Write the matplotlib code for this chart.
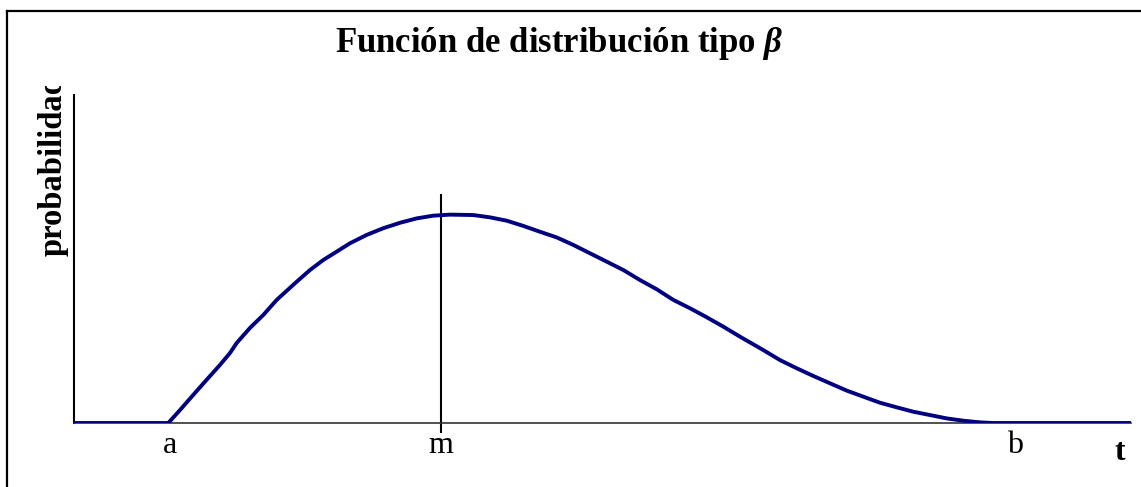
import numpy as np
import matplotlib
matplotlib.use("Agg")
from matplotlib import pyplot as plt
from matplotlib.transforms import Bbox, TransformedBbox

plt.rcParams['font.family'] = ['Liberation Serif', 'DejaVu Serif']
plt.rcParams['mathtext.fontset'] = 'custom'
plt.rcParams['mathtext.it'] = 'Liberation Serif:italic:bold'
plt.rcParams['mathtext.rm'] = 'Liberation Serif:bold'

# curve (t in arbitrary time units, relative probability)
t = [0, 9.43, 10.6, 11.77, 13.1, 14.6, 15.6, 16.27, 17.6, 18.93, 20.27, 22.27,
     23.6, 24.93, 26.27, 27.6, 29.27, 30.93, 32.6, 34.27, 35.93, 37.6, 39.93,
     41.6, 43.27, 44.93, 46.6, 48.27, 49.93, 51.6, 53.27, 54.93, 56.6, 58.27,
     59.93, 61.6, 63.27, 64.93, 66.6, 68.93, 70.6, 72.27, 73.93, 75.6, 77.27,
     78.93, 80.6, 82.27, 83.93, 85.6, 87.27, 88.93, 90.6, 91.93, 105.7]
prob = [0, 0, 0.062, 0.126, 0.198, 0.278, 0.335, 0.383, 0.455, 0.517, 0.589,
        0.676, 0.732, 0.780, 0.820, 0.860, 0.900, 0.932, 0.958, 0.979, 0.992,
        0.997, 0.995, 0.984, 0.968, 0.943, 0.915, 0.888, 0.852, 0.812, 0.772,
        0.732, 0.684, 0.640, 0.589, 0.549, 0.506, 0.461, 0.413, 0.349, 0.301,
        0.262, 0.225, 0.190, 0.155, 0.126, 0.097, 0.075, 0.054, 0.038, 0.022,
        0.011, 0.003, 0, 0]

tick_pos = [9.6, 36.7, 94.1]
tick_lab = ['a', 'm', 'b']
m_pos = 36.7

fig = plt.figure(figsize=(11.41, 4.87), dpi=100)
W, H = 1141, 487
ax = fig.add_axes([74 / W, 64 / H, 1057 / W, 328 / H])

ax.plot(t, prob, color='#000080', lw=2.8, solid_joinstyle='round', zorder=3)
ax.vlines(m_pos, -0.048, 1.096, color='black', lw=1.5, clip_on=False, zorder=2)

ax.set_xlim(0, 105.7)
ax.set_ylim(0, 328 / 209)
for s in ['top', 'right']:
    ax.spines[s].set_visible(False)
ax.spines['left'].set_linewidth(1.5)
ax.spines['bottom'].set_linewidth(1.2)
ax.spines['bottom'].set_color('#333333')
ax.set_yticks([])
ax.set_xticks(tick_pos)
ax.set_xticklabels(tick_lab, fontsize=23)
ax.tick_params(axis='x', length=0, pad=6)

fig.text(1120 / W, (487 - 452) / H, 't', fontsize=23, fontweight='bold',
         ha='center', va='center')

fig.text(559 / W, (487 - 52) / H, r'Función de distribución tipo $\beta$',
         fontsize=25, fontweight='bold', ha='center', va='baseline')

# y label is cut off at the top in the original
yl = fig.text(53 / W, (487 - 256) / H, 'probabilidad', fontsize=23.5,
              fontweight='bold', rotation=90, ha='center', va='bottom')
yl.set_clip_box(TransformedBbox(Bbox([[0, 0], [1, (487 - 86) / H]]), fig.transFigure))
yl.set_clip_on(True)

# figure border (only left and top edges are visible)
fig.add_artist(plt.Line2D([7 / W, 7 / W], [0, 1 - 11 / H], color='black', lw=1.6))
fig.add_artist(plt.Line2D([7 / W, 1], [1 - 11 / H, 1 - 11 / H], color='black', lw=1.6))

fig.savefig('out.png', dpi=100)
